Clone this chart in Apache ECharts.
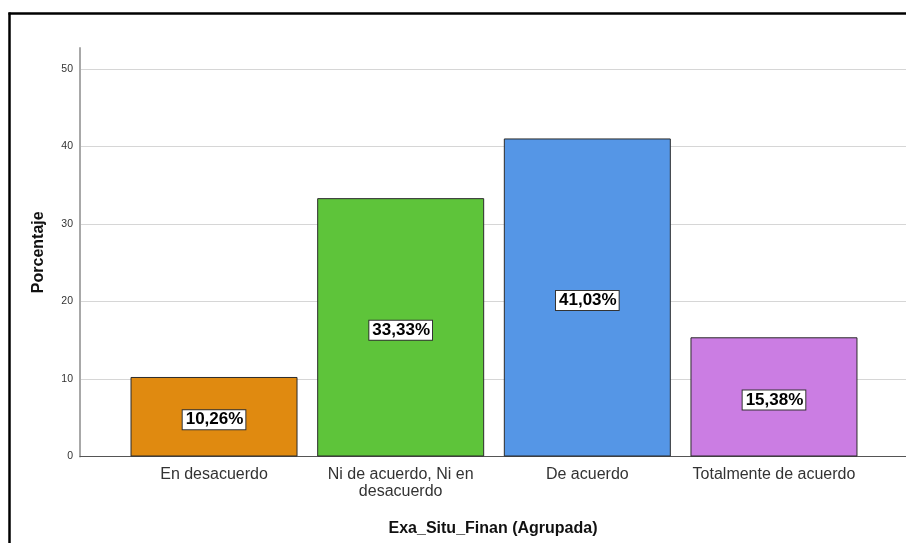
<!DOCTYPE html>
<html>
<head>
<meta charset="utf-8">
<script src="https://cdn.jsdelivr.net/npm/echarts@6/dist/echarts.min.js"></script>
<style>
  html, body { margin: 0; padding: 0; background: #fff; overflow: hidden; }
  #chart { width: 906px; height: 543px; }
</style>
</head>
<body>
<div id="chart"></div>
<script>
// Response categories for the grouped financial-situation item
const categories = ['En desacuerdo', 'Ni de acuerdo, Ni en\ndesacuerdo', 'De acuerdo', 'Totalmente de acuerdo'];
// Percentage of respondents per category
const percentages = [10.26, 33.33, 41.03, 15.38];
// Fill colour per bar
const barColors = ['#e08a10', '#5ec43a', '#5596e6', '#cb7de3'];
// Y-axis tick values
const yTicks = [0, 10, 20, 30, 40, 50];

const FONT = '"Liberation Sans", Arial, sans-serif';
const Y_MAX = 52.7;
const TOP = 48, BOTTOM = 86.5;

const chart = echarts.init(document.getElementById('chart'), null, { renderer: 'canvas' });

chart.setOption({
  backgroundColor: '#ffffff',
  animation: false,
  textStyle: { fontFamily: FONT },
  graphic: [
    // outer frame: only the left and top edges fall inside the page
    { type: 'line', silent: true, z: 100,
      shape: { x1: 9.5, y1: 12.5, x2: 9.5, y2: 543 },
      style: { stroke: '#000', lineWidth: 2.5 } },
    { type: 'line', silent: true, z: 100,
      shape: { x1: 8.5, y1: 13.5, x2: 906, y2: 13.5 },
      style: { stroke: '#000', lineWidth: 2.5 } }
  ],
  grid: [
    // frame grid: y-axis, gridlines, baseline and axis titles
    { left: 80, right: 0, top: TOP, bottom: BOTTOM, containLabel: false },
    // bar grid: category bands
    { left: 120.7, right: 38.7, top: TOP, bottom: BOTTOM, containLabel: false }
  ],
  xAxis: [
    {
      gridIndex: 0, type: 'value', min: 0, max: 1,
      axisLine: { show: true, onZero: false, lineStyle: { color: '#555', width: 1.2 } },
      axisTick: { show: false }, axisLabel: { show: false }, splitLine: { show: false },
      name: 'Exa_Situ_Finan (Agrupada)', nameLocation: 'middle', nameGap: 64,
      nameTextStyle: { fontFamily: FONT, fontSize: 16, fontWeight: 'bold', color: '#111' }
    },
    {
      gridIndex: 1, type: 'category', data: categories,
      axisLine: { show: false }, axisTick: { show: false },
      axisLabel: { color: '#333', fontFamily: FONT, fontSize: 16, margin: 10, lineHeight: 17, interval: 0 }
    }
  ],
  yAxis: [
    {
      gridIndex: 0, type: 'value', min: yTicks[0], max: Y_MAX, interval: 10,
      axisLine: { show: true, lineStyle: { color: '#a8a8a8', width: 2 } },
      axisTick: { show: false },
      axisLabel: {
        color: '#333', fontFamily: FONT, fontSize: 10.5, margin: 7,
        showMaxLabel: false,
        formatter: v => (yTicks.indexOf(v) >= 0 ? String(v) : '')
      },
      splitLine: { show: true, showMinLine: false, showMaxLine: false, lineStyle: { color: '#d6d6d6', width: 1.2 } },
      name: 'Porcentaje', nameLocation: 'middle', nameGap: 33, nameRotate: 90,
      nameTextStyle: { fontFamily: FONT, fontSize: 16, fontWeight: 'bold', color: '#111' }
    },
    {
      gridIndex: 1, type: 'value', min: yTicks[0], max: Y_MAX, show: false,
      splitLine: { show: false }
    }
  ],
  series: [{
    type: 'bar',
    xAxisIndex: 1, yAxisIndex: 1,
    barWidth: 167,
    data: percentages.map((v, i) => ({
      value: v,
      itemStyle: { color: barColors[i], borderColor: '#2b2b2b', borderWidth: 1 }
    })),
    label: {
      show: true, position: 'inside', offset: [0, 3],
      formatter: p => p.value.toFixed(2).replace('.', ',') + '%',
      fontFamily: FONT, fontSize: 17, fontWeight: 'bold', color: '#000',
      backgroundColor: '#fff', borderColor: '#333', borderWidth: 1,
      padding: [2, 2, 0, 3]
    }
  }]
});
</script>
</body>
</html>
